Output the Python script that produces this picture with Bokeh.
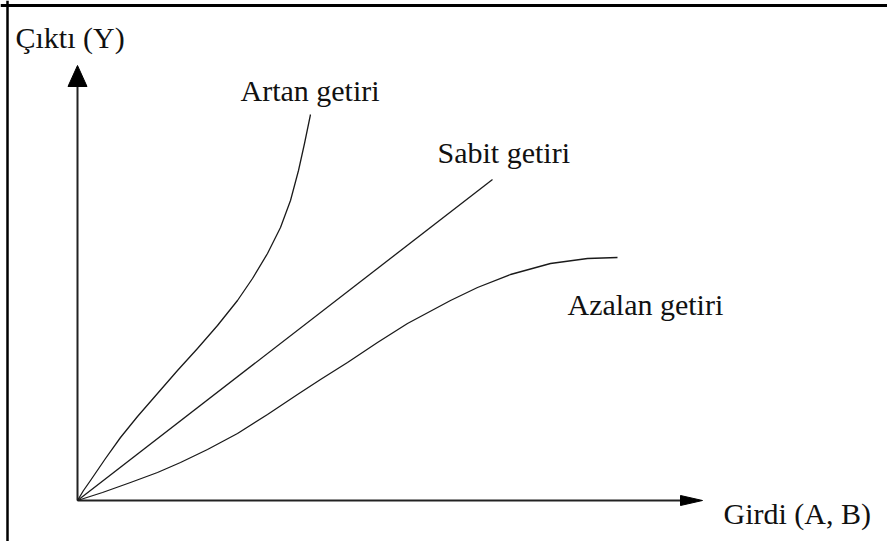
from bokeh.plotting import figure
from bokeh.models import Range1d, Label, Span
from bokeh.embed import file_html
from bokeh.resources import INLINE

# Production curves: input (x) vs output (y), origin at (0, 0)
artan_x = [0, 6, 13, 28, 43, 60, 80, 100, 120, 140, 160, 175, 190, 203, 213, 221, 227, 233]
artan_y = [0, 10, 20, 42, 63, 84, 107, 130, 152, 175, 200, 222, 247, 273, 300, 330, 357, 386]

sabit_x = [0, 415]
sabit_y = [0, 321]

azalan_x = [0, 25, 53, 80, 103, 130, 160, 190, 220, 243, 270, 300, 330, 373, 400, 433, 473, 510, 540]
azalan_y = [0, 8, 18, 28, 38, 51, 67, 86, 106, 121, 138, 158, 177, 200, 213, 226, 237, 242, 243]

# Axis extents (tip of each arrow)
x_axis_end = 625
y_axis_end = 435

curve_labels = ["Artan getiri", "Sabit getiri", "Azalan getiri"]
y_title = "Çıktı (Y)"
x_title = "Girdi (A, B)"

W, H = 887, 541
p = figure(width=W, height=H, output_backend="svg", toolbar_location=None,
           x_range=Range1d(-77, W - 77), y_range=Range1d(-(H - 500), 500),
           min_border=0, background_fill_color="white",
           border_fill_color="white")
p.axis.visible = False
p.grid.visible = False
p.outline_line_color = None

# frame lines along the left and top edges
p.add_layout(Span(location=-70, dimension="height", line_color="black", line_width=2.5))
p.add_layout(Span(location=495, dimension="width", line_color="black", line_width=3))

ink = "#1a1a1a"
# axes
p.line([0, 0], [0, y_axis_end - 20], line_color="#222222", line_width=2)
p.line([0, x_axis_end - 20], [0, 0], line_color="#222222", line_width=2)
p.patch([0, -9.5, 9.5], [y_axis_end, y_axis_end - 21, y_axis_end - 21],
        fill_color="black", line_color="black")
p.patch([x_axis_end, x_axis_end - 22, x_axis_end - 22], [0, 5, -5],
        fill_color="black", line_color="black")

# curves
for xs, ys in [(artan_x, artan_y), (sabit_x, sabit_y), (azalan_x, azalan_y)]:
    p.line(xs, ys, line_color=ink, line_width=1.3, line_join="round")

font = "Liberation Serif"
size = "30px"
text_color = "#111111"
label_pos = [(163, 410), (360, 348), (490, 196)]
for txt, (lx, ly) in zip(curve_labels, label_pos):
    p.add_layout(Label(x=lx, y=ly, text=txt, text_font=font, text_font_size=size,
                       text_color=text_color, text_baseline="alphabetic"))
p.add_layout(Label(x=-62, y=463, text=y_title, text_font=font, text_font_size=size,
                   text_color=text_color, text_baseline="alphabetic"))
p.add_layout(Label(x=646, y=-13, text=x_title, text_font=font, text_font_size=size,
                   text_color=text_color, text_baseline="alphabetic"))

open("out.html", "w").write(file_html(p, INLINE))
